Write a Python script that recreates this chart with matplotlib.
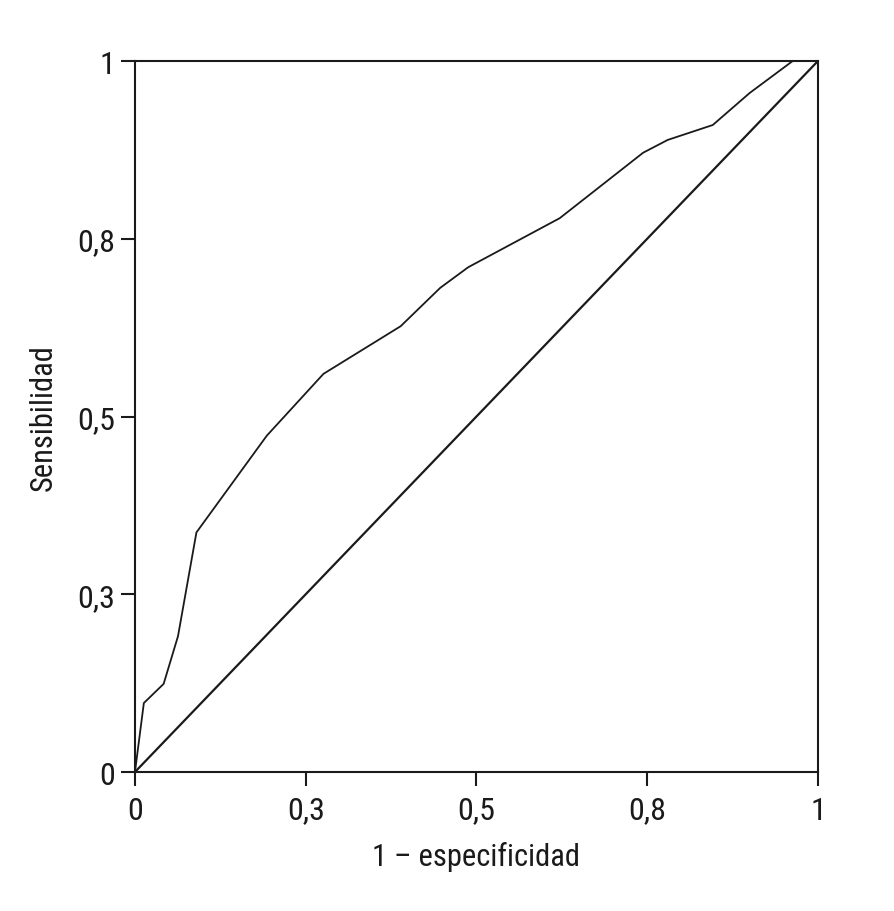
import matplotlib
matplotlib.use('Agg')
import matplotlib.pyplot as plt

# ROC curve
fpr = [0, 0.013, 0.042, 0.063, 0.090, 0.193, 0.276, 0.389, 0.447, 0.488,
       0.622, 0.744, 0.780, 0.846, 0.900, 0.963, 1.0]
tpr = [0, 0.097, 0.124, 0.191, 0.337, 0.473, 0.560, 0.627, 0.681, 0.710,
       0.779, 0.871, 0.889, 0.910, 0.955, 1.0, 1.0]

ticks = [0, 0.25, 0.5, 0.75, 1]
tick_labels = ['0', '0,3', '0,5', '0,8', '1']

plt.rcParams['font.family'] = ['Roboto Condensed', 'Liberation Sans Narrow',
                               'Liberation Sans', 'DejaVu Sans']

fig = plt.figure(figsize=(8.95, 9.12), dpi=100)
ax = fig.add_axes([0.1508, 0.1524, 0.7631, 0.7796])

ax.plot(fpr, tpr, color='#1a1a1a', linewidth=1.3)
ax.plot([0, 1], [0, 1], color='#1a1a1a', linewidth=1.6)

ax.set_xlim(0, 1)
ax.set_ylim(0, 1)
ax.set_xticks(ticks)
ax.set_xticklabels(tick_labels)
ax.set_yticks(ticks)
ax.set_yticklabels(tick_labels)
ax.tick_params(direction='out', length=10, width=1.5, labelsize=23,
               colors='#1a1a1a')
ax.tick_params(axis='x', pad=7)
ax.tick_params(axis='y', pad=4)

for s in ax.spines.values():
    s.set_linewidth(1.5)
    s.set_color('#1a1a1a')

ax.set_xlabel('1 – especificidad', fontsize=22, color='#1a1a1a', labelpad=12)
ax.set_ylabel('Sensibilidad', fontsize=22, color='#1a1a1a', labelpad=14)

fig.savefig('out.png', dpi=100)
